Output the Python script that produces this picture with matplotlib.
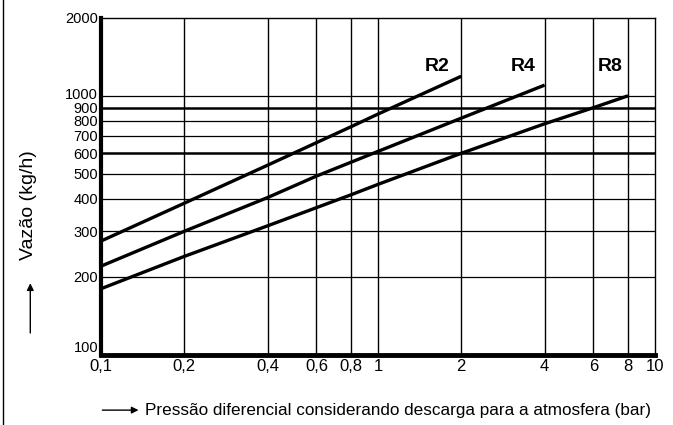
import matplotlib
matplotlib.use('Agg')
import matplotlib.pyplot as plt
from matplotlib.lines import Line2D
from matplotlib.ticker import FixedLocator, NullLocator
from matplotlib.transforms import ScaledTranslation

plt.rcParams['font.family'] = ['Liberation Sans Narrow', 'Liberation Sans', 'DejaVu Sans']

# pressure (bar) / flow (kg/h)
R2_P = [0.1, 0.2, 0.4, 0.8, 1, 2]
R2_Q = [275, 385, 540, 760, 850, 1190]
R4_P = [0.1, 0.2, 0.4, 0.6, 1, 2, 4]
R4_Q = [220, 300, 405, 490, 610, 820, 1100]
R8_P = [0.1, 0.2, 0.4, 0.8, 1, 2, 4, 6, 8]
R8_Q = [180, 240, 315, 415, 455, 600, 780, 900, 1000]

X_TICKS = [0.1, 0.2, 0.4, 0.6, 0.8, 1, 2, 4, 6, 8, 10]
X_LABELS = ['0,1', '0,2', '0,4', '0,6', '0,8', '1', '2', '4', '6', '8', '10']
Y_TICKS = [100, 200, 300, 400, 500, 600, 700, 800, 900, 1000, 2000]
Y_LABELS = [str(v) for v in Y_TICKS]
THICK_GRID = [600, 900]

fig = plt.figure(figsize=(6.73, 4.25), dpi=100)
ax = fig.add_axes([0.150, 0.165, 0.823, 0.793])
ax.set_xscale('log')
ax.set_yscale('log')
ax.set_xlim(0.1, 10)
ax.set_ylim(100, 2000)

for xv in X_TICKS[1:-1]:
    ax.axvline(xv, color='black', lw=1.0, zorder=1)
for yv in Y_TICKS[1:-1]:
    ax.axhline(yv, color='black', lw=1.8 if yv in THICK_GRID else 0.9, zorder=1)

for p, q, name, lx in [(R2_P, R2_Q, 'R2', 1.63), (R4_P, R4_Q, 'R4', 3.34), (R8_P, R8_Q, 'R8', 6.9)]:
    ax.plot(p, q, color='black', lw=2.4, solid_capstyle='butt', zorder=3)
    ax.text(lx, 1300, name, fontsize=14, fontweight='bold', ha='center', va='center')

ax.xaxis.set_major_locator(FixedLocator(X_TICKS))
ax.xaxis.set_minor_locator(NullLocator())
ax.set_xticklabels(X_LABELS)
ax.yaxis.set_major_locator(FixedLocator(Y_TICKS))
ax.yaxis.set_minor_locator(NullLocator())
ax.set_yticklabels(Y_LABELS)
ax.tick_params(length=0, labelsize=12, pad=3)
ax.tick_params(axis='y', pad=2, labelsize=10.5)
ylabels = ax.get_yticklabels()
# "100" sits just above the bottom axis, as in the original
ylabels[0].set_va('bottom')
# "1000" is lifted a little above its line
ylabels[9].set_transform(ylabels[9].get_transform() + ScaledTranslation(0, 2 / 72, fig.dpi_scale_trans))

ax.spines['left'].set_linewidth(3)
ax.spines['bottom'].set_linewidth(3.5)
ax.spines['top'].set_linewidth(1)
ax.spines['right'].set_linewidth(1)

# axis captions with arrows
fig.text(0.216, 0.035, 'Pressão diferencial considerando descarga para a atmosfera (bar)',
         fontsize=12.3, ha='left', va='center')
ax.annotate('', xy=(0.210, 0.035), xytext=(0.148, 0.035), xycoords='figure fraction',
            arrowprops=dict(arrowstyle='-|>', color='black', lw=1, mutation_scale=10))
fig.text(0.042, 0.518, 'Vazão (kg/h)', fontsize=14, rotation=90, ha='center', va='center')
ax.annotate('', xy=(0.045, 0.34), xytext=(0.045, 0.21), xycoords='figure fraction',
            arrowprops=dict(arrowstyle='-|>', color='black', lw=1, mutation_scale=10))

fig.add_artist(Line2D([0.004, 0.004], [0, 1], transform=fig.transFigure, color='black', lw=1))

plt.savefig('out.png', dpi=100)
